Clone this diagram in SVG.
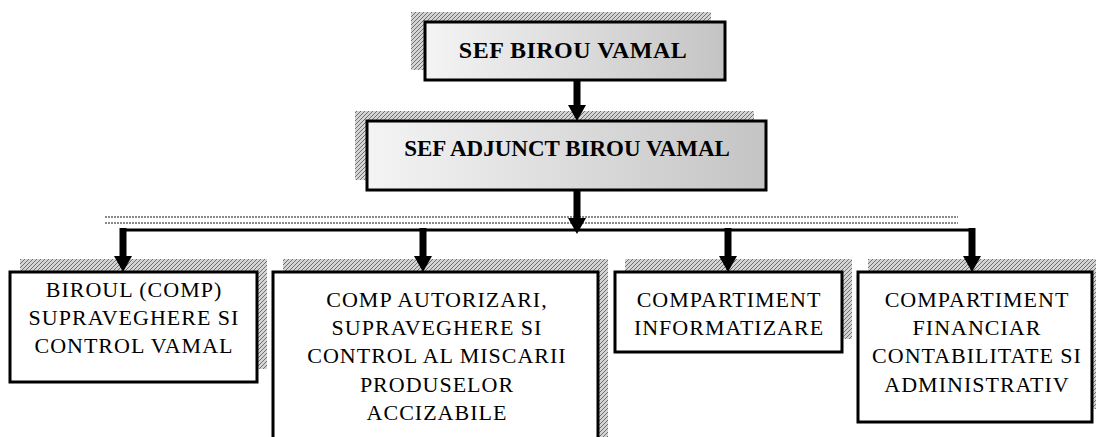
<svg xmlns="http://www.w3.org/2000/svg" width="1096" height="437" viewBox="0 0 1096 437">
<style>
.box{stroke:#000;stroke-width:3;fill:#fff}
.head{stroke:#000;stroke-width:3;fill:url(#grad)}
.sh{fill:url(#hatch)}
.t{font-family:"Liberation Serif","Times New Roman",serif;font-size:22px;letter-spacing:1px;fill:#000;text-anchor:middle}
.tb{font-family:"Liberation Serif","Times New Roman",serif;font-weight:bold;fill:#000;text-anchor:middle}
.shaft{stroke:#000;stroke-width:7;fill:none}
.hl{stroke:#000;stroke-width:3;fill:none}
.dl{stroke:#8a8a8a;stroke-width:2;stroke-dasharray:2 1;fill:none}
</style>
<defs>
<pattern id="hatch" width="4" height="4" patternUnits="userSpaceOnUse">
<rect width="4" height="4" fill="#d4d4d4"/>
<path d="M0,4 L4,0" stroke="#707070" stroke-width="1"/>
</pattern>
<linearGradient id="grad" x1="0" y1="0" x2="1" y2="0">
<stop offset="0" stop-color="#f4f4f4"/>
<stop offset="1" stop-color="#c4c4c4"/>
</linearGradient>
<marker id="ah" markerUnits="userSpaceOnUse" viewBox="0 0 16 18" markerWidth="16" markerHeight="18" refX="0" refY="9" orient="auto">
<path d="M0,0 L16,9 L0,18 z" fill="#000"/>
</marker>
</defs>

<g id="sef-birou">
<rect class="sh" x="411" y="12" width="300" height="58"/>
<rect class="head" x="425" y="22" width="300" height="58"/>
<text class="tb" x="573" y="58" font-size="24" letter-spacing="0.5">SEF BIROU VAMAL</text>
</g>

<g id="sef-adjunct">
<rect class="sh" x="355" y="111" width="399" height="69"/>
<rect class="head" x="367" y="121" width="399" height="69"/>
<text class="tb" x="567" y="156" font-size="23">SEF ADJUNCT BIROU VAMAL</text>
</g>

<g id="birou-supraveghere">
<rect class="sh" x="20" y="259" width="247" height="110"/>
<rect class="box" x="10" y="272" width="247" height="110"/>
<text class="t" x="134" y="297">BIROUL (COMP)</text>
<text class="t" x="134" y="325">SUPRAVEGHERE SI</text>
<text class="t" x="134" y="353">CONTROL VAMAL</text>
</g>

<g id="comp-autorizari">
<rect class="sh" x="283" y="259" width="325" height="190"/>
<rect class="box" x="273" y="272" width="325" height="190"/>
<text class="t" x="437" y="307">COMP AUTORIZARI,</text>
<text class="t" x="437" y="335">SUPRAVEGHERE SI</text>
<text class="t" x="437" y="363">CONTROL AL MISCARII</text>
<text class="t" x="437" y="392">PRODUSELOR</text>
<text class="t" x="437" y="420">ACCIZABILE</text>
</g>

<g id="comp-informatizare">
<rect class="sh" x="625" y="259" width="227" height="80"/>
<rect class="box" x="615" y="272" width="227" height="80"/>
<text class="t" x="729" y="307">COMPARTIMENT</text>
<text class="t" x="729" y="335">INFORMATIZARE</text>
</g>

<g id="comp-financiar">
<rect class="sh" x="868" y="259" width="234" height="150"/>
<rect class="box" x="858" y="272" width="234" height="150"/>
<text class="t" x="977" y="307">COMPARTIMENT</text>
<text class="t" x="977" y="335">FINANCIAR</text>
<text class="t" x="977" y="363">CONTABILITATE SI</text>
<text class="t" x="977" y="392">ADMINISTRATIV</text>
</g>

<g id="connectors">
<line class="dl" x1="105" y1="217" x2="958" y2="217"/>
<line class="dl" x1="105" y1="223" x2="958" y2="223"/>
<line class="hl" x1="122" y1="230" x2="973" y2="230"/>
<line class="shaft" x1="577" y1="81" x2="577" y2="105" marker-end="url(#ah)"/>
<line class="shaft" x1="577" y1="191" x2="577" y2="218" marker-end="url(#ah)"/>
<line class="shaft" x1="123" y1="228" x2="123" y2="256" marker-end="url(#ah)"/>
<line class="shaft" x1="423" y1="228" x2="423" y2="256" marker-end="url(#ah)"/>
<line class="shaft" x1="728" y1="228" x2="728" y2="256" marker-end="url(#ah)"/>
<line class="shaft" x1="972" y1="228" x2="972" y2="256" marker-end="url(#ah)"/>
</g>
</svg>
